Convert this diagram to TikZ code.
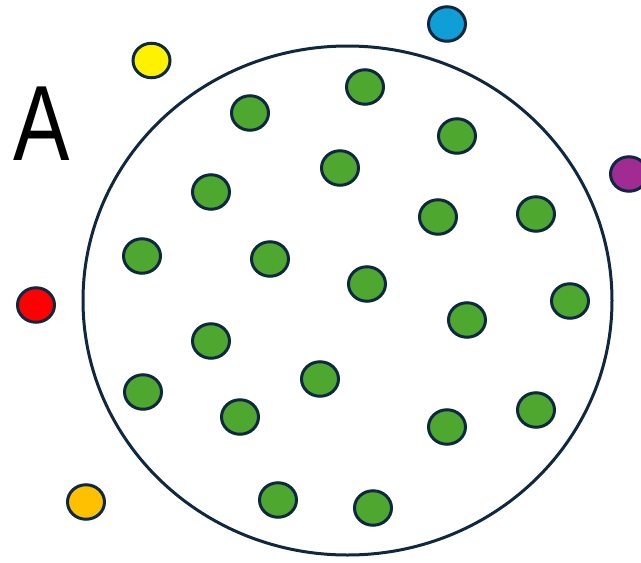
\documentclass[tikz,border=0pt]{standalone}
\usepackage{fontspec}
\setmainfont{Liberation Sans}
\usetikzlibrary{shapes.geometric}
\definecolor{edge}{HTML}{0E2841}
\definecolor{leaf}{HTML}{4EA72E}
\definecolor{sky}{HTML}{0F9ED5}
\definecolor{plum}{HTML}{A02B93}
\definecolor{amber}{HTML}{FFC000}
\begin{document}
\begin{tikzpicture}[x=1pt, y=-1pt,
	dot/.style={draw=edge, line width=3pt, ellipse, minimum width=37pt, minimum height=34.5pt, inner sep=0pt, fill=leaf},
	ring/.style={draw=edge, line width=3pt, ellipse, minimum width=529pt, minimum height=509pt, inner sep=0pt}]
	\useasboundingbox (0,0) rectangle (641,563);
	% big set
	\node[ring] (S) at (347.5,300.5) {};
	\node[anchor=base west, inner sep=0pt, xscale=0.79, font=\fontsize{107}{107}\selectfont] (lbl) at (13,160) {A};
	% points inside
	\node[dot] (g1) at (250,113) {};
	\node[dot] (g2) at (365,87) {};
	\node[dot] (g3) at (457,136) {};
	\node[dot] (g4) at (340,168) {};
	\node[dot] (g5) at (211,192) {};
	\node[dot] (g6) at (438,217) {};
	\node[dot] (g7) at (536,214) {};
	\node[dot] (g8) at (142,256) {};
	\node[dot] (g9) at (270,259) {};
	\node[dot] (g10) at (367,284) {};
	\node[dot] (g11) at (570,301) {};
	\node[dot] (g12) at (467,320) {};
	\node[dot] (g13) at (211,341) {};
	\node[dot] (g14) at (320,379) {};
	\node[dot] (g15) at (143,392) {};
	\node[dot] (g16) at (240,417) {};
	\node[dot] (g17) at (447,427) {};
	\node[dot] (g18) at (536,410) {};
	\node[dot] (g19) at (278,500) {};
	\node[dot] (g20) at (373,508) {};
	% points outside
	\node[dot, fill=yellow] (p1) at (151.5,60.5) {};
	\node[dot, fill=sky] (p2) at (447,24) {};
	\node[dot, fill=plum] (p3) at (629,174) {};
	\node[dot, fill=red] (p4) at (36,305) {};
	\node[dot, fill=amber] (p5) at (86,502) {};
\end{tikzpicture}
\end{document}
